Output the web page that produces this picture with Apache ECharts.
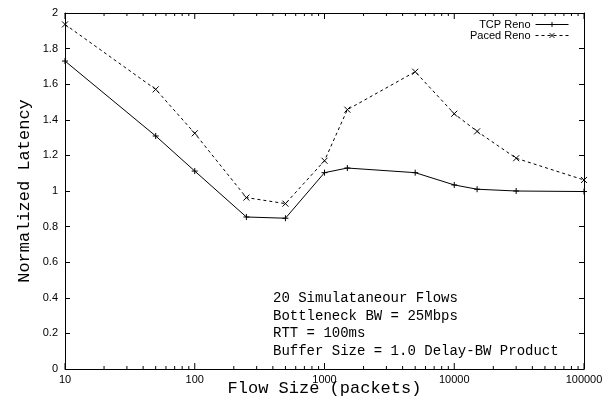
<!DOCTYPE html>
<html>
<head>
<meta charset="utf-8">
<script src="https://cdn.jsdelivr.net/npm/echarts@6/dist/echarts.min.js"></script>
<style>html,body{margin:0;padding:0;background:#fff;}#c{width:605px;height:400px;}</style>
</head>
<body>
<div id="c"></div>
<script>
var flowSizes = [10, 50, 100, 250, 500, 1000, 1500, 5000, 10000, 15000, 30000, 100000];
var tcpReno   = [1.730, 1.309, 1.112, 0.854, 0.847, 1.103, 1.129, 1.103, 1.034, 1.010, 1.000, 0.997];
var pacedReno = [1.936, 1.571, 1.324, 0.963, 0.929, 1.170, 1.457, 1.670, 1.434, 1.335, 1.184, 1.062];
var xTickLabels = ['10', '100', '1000', '10000', '100000'];
var yTickLabels = ['0', '0.2', '0.4', '0.6', '0.8', '1', '1.2', '1.4', '1.6', '1.8', '2'];
var annotation = ['20 Simulataneour Flows', 'Bottleneck BW = 25Mbps', 'RTT = 100ms', 'Buffer Size = 1.0 Delay-BW Product'];

var minorTicks = [];
for (var d = 1; d < 5; d++) {
  for (var k = 2; k <= 9; k++) minorTicks.push([k * Math.pow(10, d)]);
}
var majorTicks = xTickLabels.map(function (s) { return [Number(s)]; });

function pairs(xs, ys) { return xs.map(function (x, i) { return [x, ys[i]]; }); }

var mono = 'Liberation Mono';
var sans = 'Liberation Sans';
var black = '#000';

var chart = echarts.init(document.getElementById('c'), null, {renderer: 'canvas'});
var xCommon = {
  type: 'log', logBase: 10, min: 10, max: 100000,
  axisLine: {show: true, onZero: false, lineStyle: {color: black, width: 1}},
  axisTick: {show: false},
  splitLine: {show: false}, minorTick: {show: false}
};
var yCommon = {
  type: 'value', min: 0, max: 2, interval: 0.2,
  axisLine: {show: true, onZero: false, lineStyle: {color: black, width: 1}},
  axisTick: {show: true, inside: true, length: 5, lineStyle: {color: black}},
  splitLine: {show: false}
};
function tickRenderer(len) {
  return function (params, api) {
    var x = api.value(0);
    var pb = api.coord([x, 0]);
    var pt = api.coord([x, 2]);
    return {type: 'group', children: [
      {type: 'line', shape: {x1: pb[0], y1: pb[1], x2: pb[0], y2: pb[1] - len}, style: {stroke: black, lineWidth: 1}},
      {type: 'line', shape: {x1: pt[0], y1: pt[1], x2: pt[0], y2: pt[1] + len}, style: {stroke: black, lineWidth: 1}}
    ]};
  };
}
var option = {
  backgroundColor: '#fff',
  animation: false,
  grid: {left: 65, right: 21, top: 13, bottom: 31, containLabel: false, outerBoundsMode: 'none'},
  xAxis: [
    Object.assign({}, xCommon, {
      position: 'bottom',
      name: 'Flow Size (packets)', nameLocation: 'middle', nameGap: 11, nameMoveOverlap: false,
      nameTextStyle: {fontFamily: mono, fontSize: 17, color: black},
      axisLabel: {show: true, color: black, fontFamily: sans, fontSize: 11, margin: 5,
        formatter: function (v) { var s = String(Math.round(v)); return xTickLabels.indexOf(s) >= 0 ? s : ''; }}
    }),
    Object.assign({}, xCommon, {position: 'top', axisLabel: {show: false}})
  ],
  yAxis: [
    Object.assign({}, yCommon, {
      position: 'left',
      name: 'Normalized Latency', nameLocation: 'middle', nameGap: 32, nameMoveOverlap: false,
      nameTextStyle: {fontFamily: mono, fontSize: 17, color: black},
      axisLabel: {show: true, color: black, fontFamily: sans, fontSize: 11, margin: 7}
    }),
    Object.assign({}, yCommon, {position: 'right', axisLabel: {show: false}})
  ],
  legend: {
    orient: 'vertical', right: 31, top: 14, align: 'right',
    itemWidth: 33, itemHeight: 6, itemGap: 0,
    itemStyle: {borderWidth: 1},
    lineStyle: {width: 1},
    textStyle: {fontFamily: sans, fontSize: 11, color: black, lineHeight: 11},
    data: ['TCP Reno', 'Paced Reno']
  },
  graphic: annotation.map(function (t, i) {
    return {type: 'text', left: 273, top: 291.5 + i * 17.6,
      style: {text: t, fill: black, font: '14px "' + mono + '"'}};
  }),
  series: [
    {
      name: 'TCP Reno', type: 'line', data: pairs(flowSizes, tcpReno),
      symbol: 'path://M0,5L10,5M5,0L5,10', symbolSize: 6,
      lineStyle: {color: black, width: 1, type: 'solid'},
      itemStyle: {color: black, borderColor: black, borderWidth: 1},
      emphasis: {disabled: true}
    },
    {
      name: 'Paced Reno', type: 'line', data: pairs(flowSizes, pacedReno),
      symbol: 'path://M0,0L10,10M10,0L0,10', symbolSize: 6,
      lineStyle: {color: black, width: 1, type: [3, 3]},
      itemStyle: {color: black, borderColor: black, borderWidth: 1},
      emphasis: {disabled: true}
    },
    {
      type: 'custom', silent: true, clip: false, data: minorTicks,
      xAxisIndex: 0, yAxisIndex: 0, renderItem: tickRenderer(3)
    },
    {
      type: 'custom', silent: true, clip: false, data: majorTicks,
      xAxisIndex: 0, yAxisIndex: 0, renderItem: tickRenderer(6)
    }
  ]
};
chart.setOption(option);
</script>
</body>
</html>
